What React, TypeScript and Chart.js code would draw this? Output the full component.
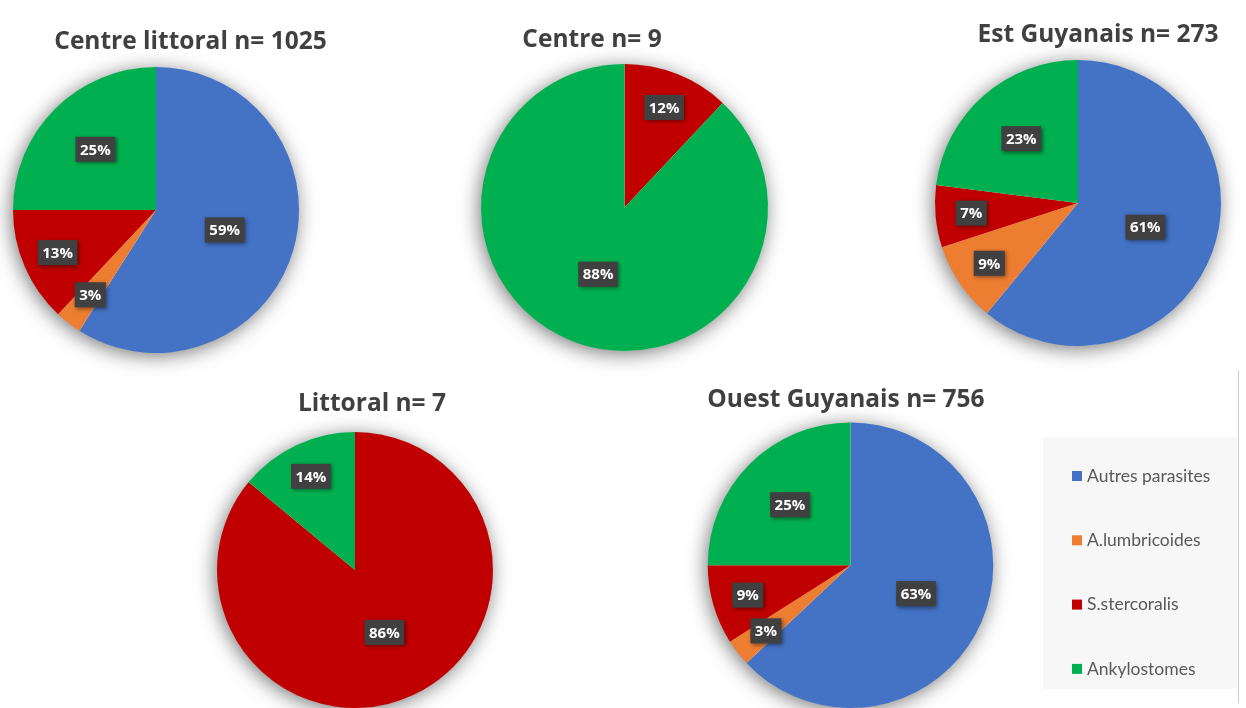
import React, { useEffect, useRef } from 'react';
import { Chart, registerables } from 'chart.js';

Chart.register(...registerables);

// ---------- data ----------
const categories = ['Autres parasites', 'A.lumbricoides', 'S.stercoralis', 'Ankylostomes'];
const sliceColors = ['#4472C4', '#ED7D31', '#C00000', '#00B050'];

const centreLittoral = [59, 3, 13, 25];
const centre = [0, 0, 12, 88];
const estGuyanais = [61, 9, 7, 23];
const littoral = [0, 0, 86, 14];
const ouestGuyanais = [63, 3, 9, 25];

const titles = [
  'Centre littoral n= 1025',
  'Centre n= 9',
  'Est Guyanais n= 273',
  'Littoral n= 7',
  'Ouest Guyanais n= 756',
];

const W = 1246;
const H = 708;

type Panel = {
  values: number[];
  title: string;
  pad: { left: number; right: number; top: number; bottom: number };
  tx: number;
  ty: number;
  legend?: boolean;
};

function padFor(cx: number, cy: number, r: number) {
  return { left: cx - r, right: W - cx - r, top: cy - r, bottom: H - cy - r };
}

const panels: Panel[] = [
  { values: centreLittoral, title: titles[0], pad: padFor(156, 210, 143), tx: 190.5, ty: 49 },
  { values: centre, title: titles[1], pad: padFor(624.5, 207.5, 143.5), tx: 592, ty: 47 },
  { values: estGuyanais, title: titles[2], pad: padFor(1078, 203, 143), tx: 1098, ty: 42 },
  { values: littoral, title: titles[3], pad: padFor(355, 572, 140), tx: 372, ty: 411 },
  { values: ouestGuyanais, title: titles[4], pad: padFor(850.5, 566, 143.5), tx: 846, ty: 407, legend: true },
];

const decorPlugin = {
  id: 'decor',
  beforeDraw(chart: any, _args: any, opts: any) {
    if (!opts || !opts.legend) return;
    const ctx = chart.ctx;
    ctx.save();
    ctx.fillStyle = '#F7F7F7';
    ctx.fillRect(1043, 437, 194, 252);
    ctx.strokeStyle = '#CFCFCF';
    ctx.lineWidth = 1;
    ctx.beginPath();
    ctx.moveTo(1238.5, 370);
    ctx.lineTo(1238.5, 703);
    ctx.stroke();
    ctx.restore();
  },
  beforeDatasetsDraw(chart: any) {
    const arc = chart.getDatasetMeta(0).data[0];
    if (!arc) return;
    const { x, y, outerRadius } = arc.getProps(['x', 'y', 'outerRadius'], true);
    const ctx = chart.ctx;
    ctx.save();
    ctx.shadowColor = 'rgba(0,0,0,0.55)';
    ctx.shadowBlur = 20;
    ctx.shadowOffsetX = -2;
    ctx.shadowOffsetY = 3;
    ctx.fillStyle = '#ffffff';
    ctx.beginPath();
    ctx.arc(x, y, outerRadius - 0.5, 0, Math.PI * 2);
    ctx.fill();
    ctx.restore();
  },
  afterDatasetsDraw(chart: any) {
    const ctx = chart.ctx;
    const ds = chart.data.datasets[0];
    const total = ds.data.reduce((a: number, b: number) => a + b, 0);
    chart.getDatasetMeta(0).data.forEach((arc: any, i: number) => {
      const v = ds.data[i];
      if (!v) return;
      const { x, y, startAngle, endAngle, outerRadius } = arc.getProps(
        ['x', 'y', 'startAngle', 'endAngle', 'outerRadius'],
        true
      );
      const p = v / total;
      const f = p >= 0.5 ? 0.5 : p >= 0.2 ? 0.6 : 0.75;
      const mid = (startAngle + endAngle) / 2;
      const lx = x + Math.cos(mid) * outerRadius * f;
      const ly = y + Math.sin(mid) * outerRadius * f;
      const text = v + '%';
      ctx.save();
      ctx.font = 'bold 15px "Open Sans"';
      const tw = ctx.measureText(text).width;
      const bw = tw + 9;
      const bh = 25;
      ctx.shadowColor = 'rgba(0,0,0,0.45)';
      ctx.shadowBlur = 4;
      ctx.shadowOffsetX = 1.5;
      ctx.shadowOffsetY = 1.5;
      ctx.fillStyle = '#404040';
      ctx.fillRect(lx - bw / 2, ly - bh / 2, bw, bh);
      ctx.shadowColor = 'transparent';
      ctx.fillStyle = '#ffffff';
      ctx.textAlign = 'center';
      ctx.textBaseline = 'middle';
      ctx.fillText(text, lx, ly + 1);
      ctx.restore();
    });
  },
  afterDraw(chart: any, _args: any, opts: any) {
    if (!opts) return;
    const ctx = chart.ctx;
    if (opts.title) {
      ctx.save();
      ctx.font = 'bold 24.5px "Open Sans"';
      ctx.fillStyle = '#404040';
      ctx.textAlign = 'center';
      ctx.textBaseline = 'alphabetic';
      ctx.fillText(opts.title, opts.tx, opts.ty);
      ctx.restore();
    }
    if (opts.legend) {
      const labels: string[] = chart.data.labels;
      const colors: string[] = chart.data.datasets[0].backgroundColor;
      ctx.save();
      ctx.font = '17.5px Lato';
      ctx.textAlign = 'left';
      ctx.textBaseline = 'middle';
      labels.forEach((lab, i) => {
        const cy = 476 + i * 64.3;
        ctx.fillStyle = colors[i];
        ctx.fillRect(1072, cy - 5, 10, 10);
        ctx.fillStyle = '#595959';
        ctx.fillText(lab, 1087, cy);
      });
      ctx.restore();
    }
  },
};

function PiePanel({ panel }: { panel: Panel }) {
  const ref = useRef<HTMLCanvasElement | null>(null);
  useEffect(() => {
    if (!ref.current) return;
    const chart = new Chart(ref.current, {
      type: 'pie',
      data: {
        labels: categories,
        datasets: [
          {
            data: panel.values,
            backgroundColor: sliceColors,
            borderWidth: 0,
          },
        ],
      },
      options: {
        responsive: false,
        animation: false,
        events: [],
        devicePixelRatio: 1,
        layout: { padding: panel.pad },
        plugins: {
          tooltip: { enabled: false },
          title: { display: false },
          legend: { display: false },
          decor: {
            title: panel.title,
            tx: panel.tx,
            ty: panel.ty,
            legend: !!panel.legend,
          },
        } as any,
      },
      plugins: [decorPlugin as any],
    });
    return () => chart.destroy();
  }, [panel]);
  return (
    <canvas
      ref={ref}
      width={W}
      height={H}
      style={{ position: 'absolute', left: 0, top: 0, width: W, height: H, pointerEvents: 'none' }}
    />
  );
}

export default function App() {
  return (
    <div
      style={{
        position: 'absolute',
        left: 0,
        top: 0,
        width: W,
        height: H,
        background: '#ffffff',
        overflow: 'hidden',
      }}
    >
      {panels.map((p, i) => (
        <PiePanel key={i} panel={p} />
      ))}
    </div>
  );
}
